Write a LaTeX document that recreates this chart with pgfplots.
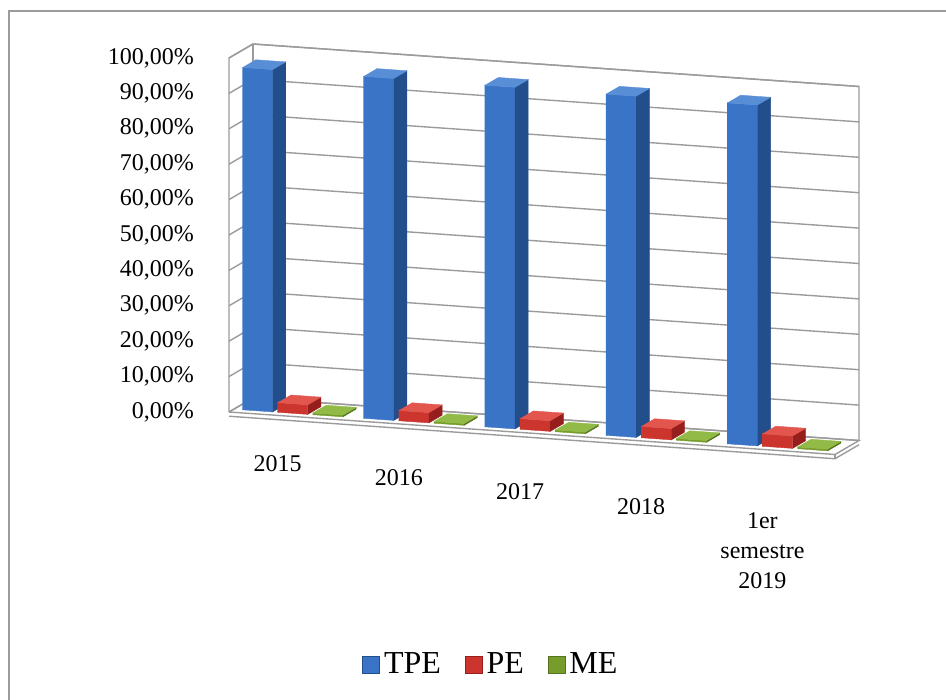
\documentclass[border=0pt]{standalone}
\usepackage{pgfplots}
\pgfplotsset{compat=1.18}
\usepackage{pgfplotstable}
\usepackage{fontspec}
\setmainfont{Liberation Serif}

\definecolor{tpeF}{RGB}{58,116,198}
\definecolor{tpeS}{RGB}{35,78,140}
\definecolor{tpeT}{RGB}{88,142,214}
\definecolor{peF}{RGB}{204,52,46}
\definecolor{peS}{RGB}{150,30,28}
\definecolor{peT}{RGB}{226,86,78}
\definecolor{meF}{RGB}{118,156,44}
\definecolor{meS}{RGB}{86,116,30}
\definecolor{meT}{RGB}{146,186,70}
\definecolor{gridc}{RGB}{155,155,155}

\pgfplotstableread{
cat TPE PE ME
0 96.7 2.7 0.5
1 96.6 2.9 0.5
2 96.5 3.0 0.5
3 96.4 3.2 0.5
4 96.3 3.5 0.5
}\datatable

\newcommand\ya{0.2}
\newcommand\yb{0.75}
\newcommand\bw{0.25}

\newcommand\drawseries[5]{%
 \pgfplotsinvokeforeach{0,...,4}{%
  \pgfplotstablegetelem{##1}{#1}\of\datatable
  \let\h\pgfplotsretval
  \pgfmathsetmacro\xa{##1+#2}%
  \pgfmathsetmacro\xb{##1+#2+\bw}%
  \edef\doit{%
   \noexpand\addplot3[forget plot,fill=#3,draw=#3,line width=0.2pt] coordinates {(\xa,\ya,0) (\xb,\ya,0) (\xb,\ya,\h) (\xa,\ya,\h)};
   \noexpand\addplot3[forget plot,fill=#4,draw=#4,line width=0.2pt] coordinates {(\xb,\ya,0) (\xb,\yb,0) (\xb,\yb,\h) (\xb,\ya,\h)};
   \noexpand\addplot3[forget plot,fill=#5,draw=#5,line width=0.2pt] coordinates {(\xa,\ya,\h) (\xb,\ya,\h) (\xb,\yb,\h) (\xa,\yb,\h)};
  }\doit
 }%
}

\begin{document}
\begin{tikzpicture}
\path[use as bounding box] (0,0) rectangle (473pt,350pt);
\draw[gridc,line width=1pt] (4.5pt,0) -- (4.5pt,344.5pt) -- (473pt,344.5pt);
\begin{axis}[
  at={(114.5pt,144pt)}, anchor=origin,
  x={(60.6pt,-4.25pt)}, y={(12pt,7pt)}, z={(0pt,1.77pt)},
  xmin=0,xmax=5,ymin=0,ymax=1,zmin=0,zmax=100,
  axis line style={draw=none},
  major tick length=0pt,
  xtick={0.5,1.5,2.5,3.5,4.5},
  xticklabels={2015,2016,2017,2018,{1er\\semestre\\2019}},
  ytick=\empty,
  ztick={0,10,...,100},
  zticklabels={{0,00\%},{10,00\%},{20,00\%},{30,00\%},{40,00\%},{50,00\%},{60,00\%},{70,00\%},{80,00\%},{90,00\%},{100,00\%}},
  zmajorgrids=true, xmajorgrids=false, ymajorgrids=false,
  major grid style={gridc,line width=0.7pt},
  ticklabel style={font=\fontsize{12}{15}\selectfont},
  xticklabel style={align=center, anchor=north, xshift=-6pt, yshift={-16pt-2.9pt*\ticknum}},
  zticklabel style={anchor=east, xshift=-14pt},
  clip=false,
]
% walls and floor outline
\addplot3[forget plot,gridc,line width=0.7pt] coordinates {(0,0,0) (0,0,100) (0,1,100) (5,1,100) (5,1,0)};
\addplot3[forget plot,gridc,line width=0.7pt] coordinates {(0,1,0) (0,1,100)};
\addplot3[forget plot,gridc,line width=0.7pt] coordinates {(0,0,0) (5,0,0) (5,1,0) (0,1,0) (0,0,0)};
\addplot3[forget plot,gridc,line width=0.7pt] coordinates {(0,0,-1.2) (5,0,-1.2) (5,1,-1.2)};
\addplot3[forget plot,gridc,line width=0.7pt] coordinates {(5,0,0) (5,0,-1.2)};
\drawseries{TPE}{0.07}{tpeF}{tpeS}{tpeT}
\drawseries{PE}{0.36}{peF}{peS}{peT}
\drawseries{ME}{0.65}{meF}{meS}{meT}
\end{axis}
\begin{axis}[
  at={(0pt,0pt)}, anchor=south west, scale only axis,
  width=473pt, height=350pt,
  xmin=0,xmax=1,ymin=0,ymax=1, hide axis,
  legend columns=3,
  legend style={at={(0.52,0.05)}, anchor=center, draw=none, fill=none,
    font=\fontsize{16}{19}\selectfont,
    /tikz/every even column/.append style={column sep=10pt}},
  legend image code/.code={\fill[#1] (0pt,-4.2pt) rectangle (8.4pt,4.2pt);},
]
\addlegendimage{fill=tpeF, draw=tpeS}
\addlegendentry{TPE}
\addlegendimage{fill=peF, draw=peS}
\addlegendentry{PE}
\addlegendimage{fill=meF, draw=meS}
\addlegendentry{ME}
\end{axis}
\end{tikzpicture}
\end{document}
